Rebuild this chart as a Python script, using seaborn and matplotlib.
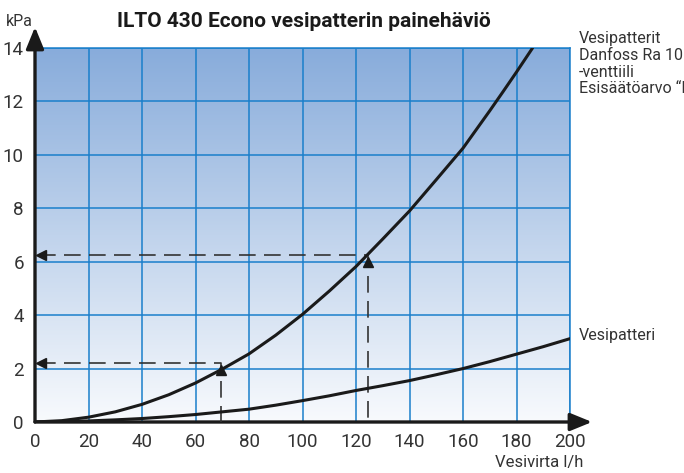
import numpy as np
import pandas as pd
import matplotlib
matplotlib.use("Agg")
import matplotlib.pyplot as plt
from matplotlib.colors import LinearSegmentedColormap
import seaborn as sns

# --------------------------------------------
# Data
# --------------------------------------------
flow_ra10 = [0, 10, 20, 30, 40, 50, 60, 70, 80, 90, 100, 110, 120, 130, 140, 150, 160, 165, 170, 175, 180, 186]
dp_ra10 = [0, 0.05, 0.18, 0.38, 0.66, 1.02, 1.46, 1.98, 2.55, 3.25, 4.03, 4.9, 5.82, 6.85, 7.9, 9.07, 10.25,
           10.95, 11.65, 12.37, 13.1, 14.0]

flow_coil = [0, 10, 20, 30, 40, 50, 60, 70, 80, 90, 100, 110, 120, 130, 140, 150, 160, 170, 180, 190, 200]
dp_coil = [0, 0.01, 0.04, 0.08, 0.13, 0.2, 0.28, 0.38, 0.48, 0.63, 0.8, 0.98, 1.18, 1.36, 1.55, 1.77, 2.0,
           2.26, 2.54, 2.82, 3.12]

x_ticks = [0, 20, 40, 60, 80, 100, 120, 140, 160, 180, 200]
y_ticks = [0, 2, 4, 6, 8, 10, 12, 14]

# example readings (flow, pressure at curve, pressure where dashed line meets axis)
ex_flow = [69.4, 124.3]
ex_dp_curve = [1.95, 6.0]
ex_dp_axis = [2.19, 6.27]

title = "ILTO 430 Econo vesipatterin painehäviö"
label_ra10 = "Vesipatterit\nDanfoss Ra 10\n-venttiili\nEsisäätöarvo “N”"
label_coil = "Vesipatteri"

df_ra10 = pd.DataFrame({"flow": flow_ra10, "dp": dp_ra10})
df_coil = pd.DataFrame({"flow": flow_coil, "dp": dp_coil})

# --------------------------------------------
# Style
# --------------------------------------------
sns.set_theme(style="white")
plt.rcParams["font.family"] = ["Roboto", "DejaVu Sans"]

grid_col = "#1a7fcb"
ink = "#1a1a1a"
text_col = "#333333"

fig = plt.figure(figsize=(6.84, 4.73), dpi=100)
ax = fig.add_axes([35 / 684, 51 / 473, 535 / 684, 374 / 473])

# gradient background
cmap = LinearSegmentedColormap.from_list("bg", ["#f8fafd", "#88acdb"])
ax.imshow(np.linspace(1, 0, 256).reshape(-1, 1), cmap=cmap, extent=[0, 200, 0, 14],
          aspect="auto", zorder=0)

# curves
sns.lineplot(data=df_ra10, x="flow", y="dp", ax=ax, color=ink, lw=2.2, zorder=5)
sns.lineplot(data=df_coil, x="flow", y="dp", ax=ax, color=ink, lw=2.2, zorder=5)

# dashed reading lines
for fx, fy, ay in zip(ex_flow, ex_dp_curve, ex_dp_axis):
    ax.plot([1.5, fx, fx], [ay, ay, 0], ls=(0, (10, 5)), color=text_col, lw=1.2, zorder=4)
    ax.plot(fx, fy, marker="^", ms=7, color=ink, zorder=6)
    ax.plot(2.2, ay, marker="<", ms=7, color=ink, zorder=6, clip_on=False)

ax.set_xlim(0, 200)
ax.set_ylim(0, 14)
ax.set_xticks(x_ticks)
ax.set_yticks(y_ticks)
ax.grid(True, color=grid_col, lw=1.1)
for gl in ax.get_xgridlines() + ax.get_ygridlines():
    gl.set_zorder(1)
ax.tick_params(length=0, labelsize=13.5, colors=text_col, pad=8)
ax.set_xlabel("")
ax.set_ylabel("")

for s in ["top", "right"]:
    ax.spines[s].set_color(grid_col)
    ax.spines[s].set_linewidth(1.1)
for s in ["left", "bottom"]:
    ax.spines[s].set_visible(False)

# axis arrows
arrow = dict(arrowstyle="-|>,head_length=1.1,head_width=0.45", lw=2.4, color=ink,
             shrinkA=0, shrinkB=0)
ax.annotate("", xy=(0, 1 + 21 / 374), xytext=(0, 0), xycoords="axes fraction",
            arrowprops=arrow, annotation_clip=False)
ax.annotate("", xy=(1 + 22 / 535, 0), xytext=(0, 0), xycoords="axes fraction",
            arrowprops=arrow, annotation_clip=False)

# texts
fig.text(304 / 684, 1 - 21 / 473, title, ha="center", va="center",
         fontsize=15, fontweight="bold", color=ink)
fig.text(19 / 684, 1 - 21 / 473, "kPa", ha="center", va="center", fontsize=11.5, color=text_col)
fig.text(583 / 684, 1 - 462 / 473, "Vesivirta l/h", ha="right", va="center", fontsize=12,
         color=text_col)
fig.text(579 / 684, 1 - 31 / 473, label_ra10, ha="left", va="top", fontsize=11.5,
         color=text_col, linespacing=1.15)
fig.text(579 / 684, 1 - 335 / 473, label_coil, ha="left", va="center", fontsize=11.5,
         color=text_col)

fig.savefig("out.png", dpi=100)
